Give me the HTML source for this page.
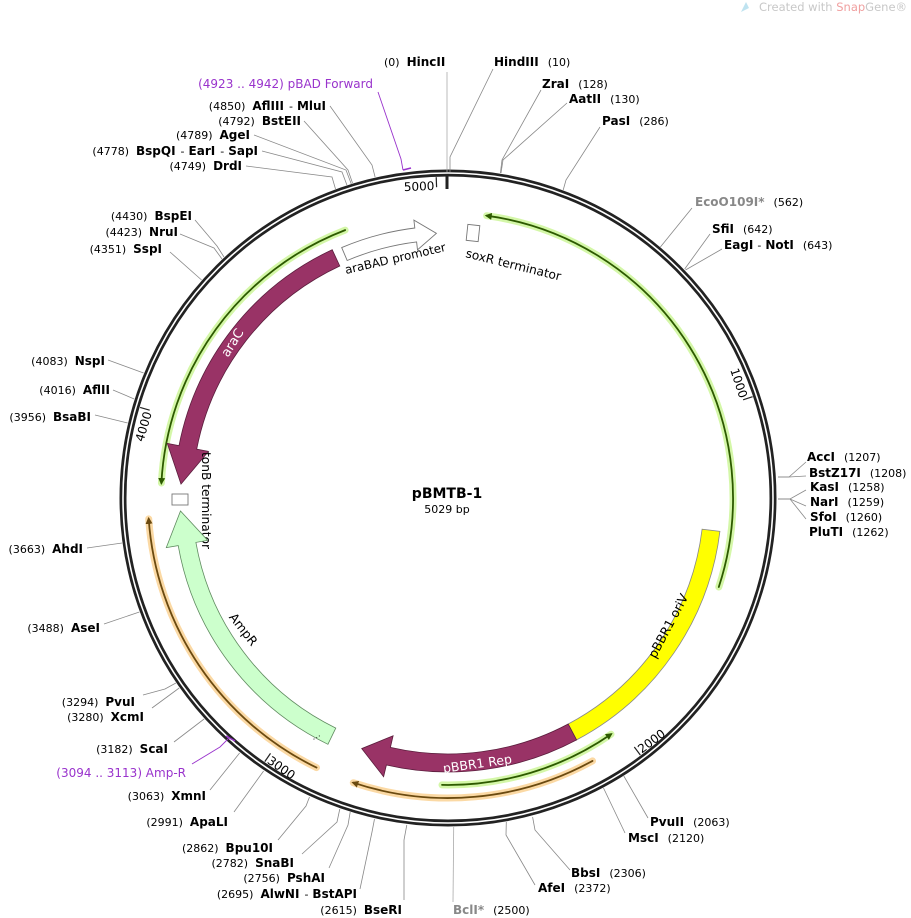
<!DOCTYPE html>
<html><head><meta charset="utf-8"><style>
html,body{margin:0;padding:0;background:#fff;}
svg{display:block;font-family:"DejaVu Sans","Liberation Sans",sans-serif;}
.n{font-weight:bold;font-size:12px;fill:#000;}
.p{font-size:11px;fill:#000;}
.l{stroke:#888;stroke-width:0.8;fill:none;}
</style></head><body>
<svg width="911" height="918" viewBox="0 0 911 918" xmlns="http://www.w3.org/2000/svg">
<defs>
<marker id="ag" markerWidth="8" markerHeight="8" refX="5" refY="4" orient="auto" markerUnits="userSpaceOnUse"><path d="M0,0.5 L7,4 L0,7.5 Z" fill="#2d5a00"/></marker>
<marker id="ao" markerWidth="8" markerHeight="8" refX="5" refY="4" orient="auto" markerUnits="userSpaceOnUse"><path d="M0,0.5 L7,4 L0,7.5 Z" fill="#6b4a10"/></marker>
</defs>
<text x="759" y="11" font-size="11.5" fill="#c8c8c8">Created with <tspan fill="#f0a0a0">Snap</tspan>Gene®</text>
<path d="M741,12 L746,2 L749,8 Z" fill="#bfe3f0"/>

<circle cx="448" cy="498" r="325" fill="none" stroke="#222" stroke-width="7"/>
<circle cx="448" cy="498" r="325" fill="none" stroke="#fff" stroke-width="1.6"/>

<line x1="447" y1="176" x2="447" y2="189" stroke="#222" stroke-width="3"/>
<line x1="436.2" y1="177.2" x2="436.6" y2="187.2" stroke="#222" stroke-width="1.2"/>
<text x="434.5" y="190" font-size="12" text-anchor="end" transform="rotate(-2.1 434.5 190)">5000</text>
<line x1="752.6" y1="396.7" x2="743.1" y2="399.8" stroke="#222" stroke-width="1.2"/>
<text x="739.7" y="398.9" font-size="12" text-anchor="end" transform="rotate(71.6 739.7 398.9)">1000</text>
<line x1="640.3" y1="755" x2="634.3" y2="747" stroke="#222" stroke-width="1.2"/>
<text x="636.5" y="746.6" font-size="12" text-anchor="start" dominant-baseline="hanging" transform="rotate(-36.8 636.5 746.6)">2000</text>
<line x1="264.8" y1="761.6" x2="270.5" y2="753.4" stroke="#222" stroke-width="1.2"/>
<text x="271.5" y="755.3" font-size="12" text-anchor="start" dominant-baseline="hanging" transform="rotate(34.8 271.5 755.3)">3000</text>
<line x1="140.1" y1="407.4" x2="149.7" y2="410.2" stroke="#222" stroke-width="1.2"/>
<text x="151.9" y="413" font-size="12" text-anchor="end" transform="rotate(-73.6 151.9 413)">4000</text>

<g fill="none" stroke-linecap="round">
<path d="M345.1,230.1 A287,287 0 0 0 161.4,483" stroke="#d4f7a8" stroke-width="7"/>
<path d="M345.1,230.1 A287,287 0 0 0 161.4,483" stroke="#2d5a00" stroke-width="1.8" marker-end="url(#ag)"/>
<path d="M718.8,587 A285,285 0 0 0 486.7,215.7" stroke="#d4f7a8" stroke-width="7"/>
<path d="M718.8,587 A285,285 0 0 0 486.7,215.7" stroke="#2d5a00" stroke-width="1.8" marker-end="url(#ag)"/>
<path d="M442,784.9 A287,287 0 0 0 611,734.2" stroke="#d4f7a8" stroke-width="7"/>
<path d="M442,784.9 A287,287 0 0 0 611,734.2" stroke="#2d5a00" stroke-width="1.8" marker-end="url(#ag)"/>
<path d="M592.5,760.9 A300,300 0 0 1 353.3,782.7" stroke="#fbd9a4" stroke-width="7"/>
<path d="M592.5,760.9 A300,300 0 0 1 353.3,782.7" stroke="#6b4a10" stroke-width="1.8" marker-end="url(#ao)"/>
<path d="M316.5,767.6 A300,300 0 0 1 148.7,518.9" stroke="#fbd9a4" stroke-width="7"/>
<path d="M316.5,767.6 A300,300 0 0 1 148.7,518.9" stroke="#6b4a10" stroke-width="1.8" marker-end="url(#ao)"/>
</g>

<path d="M341.7,247.6 A272,272 0 0 1 414.8,228 L413.9,220.1 L436.4,233.3 L417.5,249.9 L416.6,241.9 A258,258 0 0 0 347.2,260.5 Z" fill="#fff" stroke="#777" stroke-width="0.9"/>
<text x="0" y="0" font-size="11.8" transform="translate(346,274) rotate(-13)">araBAD promoter</text>
<rect x="-6" y="-8" width="12" height="16" fill="#fff" stroke="#777" stroke-width="0.9" transform="translate(473,233) rotate(6)"/>
<text x="0" y="0" font-size="12.2" transform="translate(465,257) rotate(14)">soxR terminator</text>

<path d="M332.2,249.7 A274,274 0 0 0 179,445.7 L167.3,443.4 L181,484.1 L208.5,451.4 L196.7,449.2 A256,256 0 0 1 339.8,266 Z" fill="#993366" stroke="#5a1d3c" stroke-width="0.8"/>
<text x="0" y="0" font-size="13" fill="#fff" text-anchor="middle" transform="translate(236,345) rotate(-58)">araC</text>

<rect x="172" y="494" width="16" height="11" fill="#fff" stroke="#777" stroke-width="0.9"/>
<text x="0" y="0" font-size="12.2" transform="translate(202,452) rotate(90)">tonB terminator</text>

<path d="M327.9,744.3 A274,274 0 0 1 178.2,545.6 L166.3,547.6 L180.5,511 L207.7,540.4 L195.9,542.4 A256,256 0 0 0 335.8,728.1 Z" fill="#ccffcc" stroke="#5f8a5f" stroke-width="0.8"/>
<text x="0" y="0" font-size="12.5" text-anchor="middle" transform="translate(240,632) rotate(52)">AmpR</text>
<text x="312" y="735" font-size="9" fill="#333" transform="rotate(60 312 735)">⋮</text>

<path d="M719.9,531.4 A274,274 0 0 1 576.6,739.9 L568.2,724 A256,256 0 0 0 702.1,529.2 Z" fill="#ffff00" stroke="#888" stroke-width="0.8"/>
<text x="0" y="0" font-size="12.5" text-anchor="middle" transform="translate(672,628) rotate(-62)">pBBR1 oriV</text>

<path d="M576.6,739.9 A274,274 0 0 1 386.4,765 L383.6,776.7 L361.7,748.6 L393.1,735.8 L390.4,747.4 A256,256 0 0 0 568.2,724 Z" fill="#993366" stroke="#5a1d3c" stroke-width="0.8"/>
<text x="0" y="0" font-size="12.5" fill="#fff" text-anchor="middle" transform="translate(478,768) rotate(-8)">pBBR1 Rep</text>

<text x="447" y="498" text-anchor="middle" font-weight="bold" font-size="14">pBMTB-1</text>
<text x="447" y="513" text-anchor="middle" font-size="11">5029 bp</text>

<g class="l">
<polyline points="447,172 447,72" stroke="#aaa"/>
<polyline points="450,172 450,157 493,69"/>
<polyline points="500.4,173 502,160 541,90"/>
<polyline points="501,173 503,160 567,103"/>
<polyline points="563.2,190 566,180 600,127"/>
<polyline points="660.4,247 692,208"/>
<polyline points="684.7,269 710,234"/>
<polyline points="685.5,270 722,249"/>
<polyline points="778,477 789,477 806,462"/>
<polyline points="778,477 789,477 806,476"/>
<polyline points="778,499 790,499 806,490"/>
<polyline points="778,499 790,499 806,506"/>
<polyline points="778,499 790,499 806,519"/>
<polyline points="623.8,776 648,818"/>
<polyline points="603.5,788 625,833"/>
<polyline points="532.6,817 535,830 570,870"/>
<polyline points="506.3,822 506,835 535,885"/>
<polyline points="453.7,827 453,902" stroke="#aaa"/>
<polyline points="406.8,825 404,840 404,900"/>
<polyline points="374.5,819 372,832 360,889"/>
<polyline points="350.2,812 348,825 329,868"/>
<polyline points="339.8,809 337,822 302,854"/>
<polyline points="309.5,797 306,806 278,840"/>
<polyline points="263.6,771 234,812"/>
<polyline points="239.6,753 210,790"/>
<polyline points="204.1,719 174,742"/>
<polyline points="179.2,688 152,708"/>
<polyline points="175.9,683 165,689 143,695"/>
<polyline points="139.4,612 104,624"/>
<polyline points="122.1,543 87,548"/>
<polyline points="127.7,423 95,415"/>
<polyline points="134.2,399 113,390"/>
<polyline points="143.6,373 108,360"/>
<polyline points="201.6,280 170,252"/>
<polyline points="222,259 214,248 180,234"/>
<polyline points="224,257 217,246 195,220"/>
<polyline points="335.5,189 332,177 246,166"/>
<polyline points="346.9,185 342,172 262,151"/>
<polyline points="351.3,184 346,170 254,135"/>
<polyline points="352.5,183 348,170 304,121"/>
<polyline points="375.1,177 372,165 330,106"/>
</g>
<polyline points="403,170 411,168" fill="none" stroke="#9933cc" stroke-width="1.5"/>
<polyline points="403,170 401,159 378,92" fill="none" stroke="#9933cc" stroke-width="0.9"/>
<polyline points="226,736 235,741" fill="none" stroke="#9933cc" stroke-width="1.5"/>
<polyline points="229,738 220,747 192,764" fill="none" stroke="#9933cc" stroke-width="0.9"/>

<g>
<text x="384" y="66"><tspan class="p">(0)</tspan><tspan class="n" dx="7">HincII</tspan></text>
<text x="494" y="66"><tspan class="n">HindIII</tspan><tspan class="p" dx="9">(10)</tspan></text>
<text x="542" y="88"><tspan class="n">ZraI</tspan><tspan class="p" dx="9">(128)</tspan></text>
<text x="569" y="103"><tspan class="n">AatII</tspan><tspan class="p" dx="9">(130)</tspan></text>
<text x="602" y="125"><tspan class="n">PasI</tspan><tspan class="p" dx="9">(286)</tspan></text>
<text x="695" y="206"><tspan class="n" style="fill:#888">EcoO109I*</tspan><tspan class="p" dx="9">(562)</tspan></text>
<text x="712" y="233"><tspan class="n">SfiI</tspan><tspan class="p" dx="9">(642)</tspan></text>
<text x="724" y="249"><tspan class="n">EagI</tspan><tspan class="p" dx="4">-</tspan><tspan class="n" dx="4">NotI</tspan><tspan class="p" dx="9">(643)</tspan></text>
<text x="807" y="461"><tspan class="n">AccI</tspan><tspan class="p" dx="9">(1207)</tspan></text>
<text x="809" y="477"><tspan class="n">BstZ17I</tspan><tspan class="p" dx="9">(1208)</tspan></text>
<text x="810" y="491"><tspan class="n">KasI</tspan><tspan class="p" dx="9">(1258)</tspan></text>
<text x="810" y="506"><tspan class="n">NarI</tspan><tspan class="p" dx="9">(1259)</tspan></text>
<text x="810" y="521"><tspan class="n">SfoI</tspan><tspan class="p" dx="9">(1260)</tspan></text>
<text x="809" y="536"><tspan class="n">PluTI</tspan><tspan class="p" dx="9">(1262)</tspan></text>
<text x="650" y="826"><tspan class="n">PvuII</tspan><tspan class="p" dx="9">(2063)</tspan></text>
<text x="628" y="842"><tspan class="n">MscI</tspan><tspan class="p" dx="9">(2120)</tspan></text>
<text x="571" y="877"><tspan class="n">BbsI</tspan><tspan class="p" dx="9">(2306)</tspan></text>
<text x="538" y="892"><tspan class="n">AfeI</tspan><tspan class="p" dx="9">(2372)</tspan></text>
<text x="453" y="914"><tspan class="n" style="fill:#888">BclI*</tspan><tspan class="p" dx="9">(2500)</tspan></text>
</g>
<g text-anchor="end">
<text x="402" y="914"><tspan class="p">(2615)</tspan><tspan class="n" dx="7">BseRI</tspan></text>
<text x="357" y="898"><tspan class="p">(2695)</tspan><tspan class="n" dx="7">AlwNI</tspan><tspan class="p" dx="5">-</tspan><tspan class="n" dx="4">BstAPI</tspan></text>
<text x="325" y="882"><tspan class="p">(2756)</tspan><tspan class="n" dx="7">PshAI</tspan></text>
<text x="294" y="867"><tspan class="p">(2782)</tspan><tspan class="n" dx="7">SnaBI</tspan></text>
<text x="273" y="852"><tspan class="p">(2862)</tspan><tspan class="n" dx="7">Bpu10I</tspan></text>
<text x="228" y="826"><tspan class="p">(2991)</tspan><tspan class="n" dx="7">ApaLI</tspan></text>
<text x="206" y="800"><tspan class="p">(3063)</tspan><tspan class="n" dx="7">XmnI</tspan></text>
<text x="186" y="777" font-size="12" fill="#9933cc">(3094 .. 3113)  Amp-R</text>
<text x="168" y="753"><tspan class="p">(3182)</tspan><tspan class="n" dx="7">ScaI</tspan></text>
<text x="144" y="721"><tspan class="p">(3280)</tspan><tspan class="n" dx="7">XcmI</tspan></text>
<text x="135" y="706"><tspan class="p">(3294)</tspan><tspan class="n" dx="7">PvuI</tspan></text>
<text x="100" y="632"><tspan class="p">(3488)</tspan><tspan class="n" dx="7">AseI</tspan></text>
<text x="83" y="553"><tspan class="p">(3663)</tspan><tspan class="n" dx="7">AhdI</tspan></text>
<text x="91" y="421"><tspan class="p">(3956)</tspan><tspan class="n" dx="7">BsaBI</tspan></text>
<text x="110" y="394"><tspan class="p">(4016)</tspan><tspan class="n" dx="7">AflII</tspan></text>
<text x="105" y="365"><tspan class="p">(4083)</tspan><tspan class="n" dx="7">NspI</tspan></text>
<text x="162" y="253"><tspan class="p">(4351)</tspan><tspan class="n" dx="7">SspI</tspan></text>
<text x="178" y="236"><tspan class="p">(4423)</tspan><tspan class="n" dx="7">NruI</tspan></text>
<text x="192" y="220"><tspan class="p">(4430)</tspan><tspan class="n" dx="7">BspEI</tspan></text>
<text x="242" y="170"><tspan class="p">(4749)</tspan><tspan class="n" dx="7">DrdI</tspan></text>
<text x="258" y="155"><tspan class="p">(4778)</tspan><tspan class="n" dx="7">BspQI</tspan><tspan class="p" dx="5">-</tspan><tspan class="n" dx="4">EarI</tspan><tspan class="p" dx="5">-</tspan><tspan class="n" dx="4">SapI</tspan></text>
<text x="250" y="139"><tspan class="p">(4789)</tspan><tspan class="n" dx="7">AgeI</tspan></text>
<text x="301" y="125"><tspan class="p">(4792)</tspan><tspan class="n" dx="7">BstEII</tspan></text>
<text x="326" y="110"><tspan class="p">(4850)</tspan><tspan class="n" dx="7">AflIII</tspan><tspan class="p" dx="5">-</tspan><tspan class="n" dx="4">MluI</tspan></text>
<text x="373" y="88" font-size="12" fill="#9933cc">(4923 .. 4942)  pBAD Forward</text>
</g>
</svg>
</body></html>
